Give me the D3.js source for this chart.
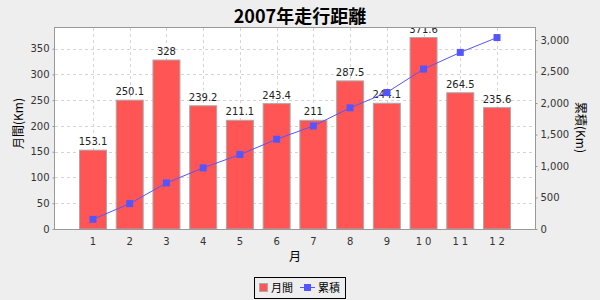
<!DOCTYPE html>
<html>
<head>
<meta charset="utf-8">
<script src="https://cdn.jsdelivr.net/npm/d3@7/dist/d3.min.js"></script>
<style>
    body { margin: 0; background: #eeeeee; }
    text { font-family: "DejaVu Sans", sans-serif; }
    .cjk { font-family: "Noto Sans CJK JP", sans-serif; }
</style>
</head>
<body>
<svg id="chart"></svg>
<script>
var months = ["1", "2", "3", "4", "5", "6", "7", "8", "9", "10", "11", "12"];
var monthly = [153.1, 250.1, 328, 239.2, 211.1, 243.4, 211, 287.5, 244.1, 371.6, 264.5, 235.6];
var cumulative = [153.1, 403.2, 731.2, 970.4, 1181.5, 1424.9, 1635.9, 1923.4, 2167.5, 2539.1, 2803.6, 3039.2];
var leftTicks = [0, 50, 100, 150, 200, 250, 300, 350];
var rightTicks = [0, 500, 1000, 1500, 2000, 2500, 3000];

const W = 600, H = 300;
const plot = {left: 55, right: 535, top: 28, bottom: 229};

const svg = d3.select("#chart")
    .attr("width", W)
    .attr("height", H);

svg.append("rect")
    .attr("width", W)
    .attr("height", H)
    .style("fill", "#eeeeee");

// scales (5% upper margin like the original)
const x = d3.scaleBand()
    .domain(months)
    .range([plot.left + 24, plot.right - 24])
    .paddingInner(0.238)
    .paddingOuter(0);

const yLeft = d3.scaleLinear()
    .domain([0, d3.max(monthly) * 1.05])
    .range([plot.bottom, plot.top]);

const yRight = d3.scaleLinear()
    .domain([0, d3.max(cumulative) * 1.05])
    .range([plot.bottom, plot.top]);

svg.append("rect")
    .attr("x", plot.left)
    .attr("y", plot.top)
    .attr("width", plot.right - plot.left)
    .attr("height", plot.bottom - plot.top)
    .style("fill", "white");

svg.append("clipPath")
    .attr("id", "plotclip")
    .append("rect")
    .attr("x", plot.left)
    .attr("y", plot.top)
    .attr("width", plot.right - plot.left)
    .attr("height", plot.bottom - plot.top);

// gridlines
const grid = svg.append("g")
    .style("stroke", "#d4d4d4")
    .style("stroke-dasharray", "3,3")
    .style("stroke-width", "1px");

grid.selectAll(".vgrid")
    .data(months)
    .enter()
    .append("line")
    .attr("x1", d => Math.round(x(d) + x.bandwidth() / 2) + 0.5)
    .attr("x2", d => Math.round(x(d) + x.bandwidth() / 2) + 0.5)
    .attr("y1", plot.top)
    .attr("y2", plot.bottom);

grid.selectAll(".hgrid")
    .data(leftTicks.slice(1))
    .enter()
    .append("line")
    .attr("x1", plot.left)
    .attr("x2", plot.right)
    .attr("y1", d => Math.round(yLeft(d)) + 0.5)
    .attr("y2", d => Math.round(yLeft(d)) + 0.5);

const inner = svg.append("g").attr("clip-path", "url(#plotclip)");

// bars
inner.selectAll(".bar")
    .data(monthly)
    .enter()
    .append("rect")
    .attr("class", "bar")
    .attr("x", (d, i) => x(months[i]) + 0.5)
    .attr("y", d => yLeft(d))
    .attr("width", x.bandwidth() - 1)
    .attr("height", d => plot.bottom - yLeft(d))
    .style("fill", "#ff5555")
    .style("stroke", "#aaaaaa")
    .style("stroke-width", "1px");

// value labels
inner.selectAll(".val")
    .data(monthly)
    .enter()
    .append("text")
    .attr("x", (d, i) => x(months[i]) + x.bandwidth() / 2)
    .attr("y", d => yLeft(d) - 5)
    .attr("text-anchor", "middle")
    .style("font-size", "10px")
    .style("fill", "#222")
    .text(d => d);

// cumulative line
const line = d3.line()
    .x((d, i) => x(months[i]) + x.bandwidth() / 2)
    .y(d => yRight(d));

inner.append("path")
    .datum(cumulative)
    .attr("d", line)
    .style("fill", "none")
    .style("stroke", "#5555ff")
    .style("stroke-width", "1px");

inner.selectAll(".marker")
    .data(cumulative)
    .enter()
    .append("rect")
    .attr("x", (d, i) => x(months[i]) + x.bandwidth() / 2 - 3.5)
    .attr("y", d => yRight(d) - 3.5)
    .attr("width", 7)
    .attr("height", 7)
    .style("fill", "#5555ff");

// plot border
svg.append("rect")
    .attr("x", plot.left - 0.5)
    .attr("y", plot.top - 0.5)
    .attr("width", plot.right - plot.left + 1)
    .attr("height", plot.bottom - plot.top + 1)
    .style("fill", "none")
    .style("stroke", "#999999");

// axes
function styleAxis(g) {
    g.select(".domain").remove();
    g.selectAll(".tick line").style("stroke", "#999999");
    g.selectAll(".tick text")
        .style("font-family", "DejaVu Sans, sans-serif")
        .style("font-size", "10px")
        .style("fill", "#333333");
}

svg.append("g")
    .attr("transform", `translate(${plot.left - 0.5} 0)`)
    .call(d3.axisLeft(yLeft).tickValues(leftTicks).tickSize(2).tickPadding(3))
    .call(styleAxis);

svg.append("g")
    .attr("transform", `translate(${plot.right + 0.5} 0)`)
    .call(d3.axisRight(yRight).tickValues(rightTicks).tickSize(2).tickPadding(3)
        .tickFormat(d3.format(",")))
    .call(styleAxis);

svg.append("g")
    .attr("transform", `translate(0 ${plot.bottom + 0.5})`)
    .call(d3.axisBottom(x).tickSize(0).tickPadding(8))
    .call(styleAxis)
    .selectAll(".tick text")
    .style("letter-spacing", d => d.length > 1 ? "3px" : "0px")
    .attr("dx", d => d.length > 1 ? "1.5px" : "0px");

// title and axis labels
svg.append("text")
    .attr("class", "cjk")
    .attr("x", W / 2)
    .attr("y", 23)
    .attr("text-anchor", "middle")
    .style("font-size", "18px")
    .style("font-weight", "bold")
    .text("2007年走行距離");

svg.append("text")
    .attr("class", "cjk")
    .attr("transform", `translate(23 ${(plot.top + plot.bottom) / 2 - 5}) rotate(-90)`)
    .attr("text-anchor", "middle")
    .style("font-size", "12px")
    .text("月間(Km)");

svg.append("text")
    .attr("class", "cjk")
    .attr("transform", `translate(576 ${(plot.top + plot.bottom) / 2 - 1}) rotate(90)`)
    .attr("text-anchor", "middle")
    .style("font-size", "12px")
    .text("累積(Km)");

svg.append("text")
    .attr("class", "cjk")
    .attr("x", (plot.left + plot.right) / 2)
    .attr("y", 261)
    .attr("text-anchor", "middle")
    .style("font-size", "12px")
    .text("月");

// legend
const legend = svg.append("g").attr("transform", "translate(254 277)");
legend.append("rect")
    .attr("x", 0.5)
    .attr("y", 0.5)
    .attr("width", 91)
    .attr("height", 21)
    .style("fill", "none")
    .style("stroke", "black");
legend.append("rect")
    .attr("x", 5.5)
    .attr("y", 6.5)
    .attr("width", 8)
    .attr("height", 8)
    .style("fill", "#ff5555")
    .style("stroke", "#aaaaaa");
legend.append("text")
    .attr("class", "cjk")
    .attr("x", 17)
    .attr("y", 15)
    .style("font-size", "11px")
    .text("月間");
legend.append("line")
    .attr("x1", 46)
    .attr("x2", 61)
    .attr("y1", 10.5)
    .attr("y2", 10.5)
    .style("stroke", "#5555ff");
legend.append("rect")
    .attr("x", 50)
    .attr("y", 7)
    .attr("width", 7)
    .attr("height", 7)
    .style("fill", "#5555ff");
legend.append("text")
    .attr("class", "cjk")
    .attr("x", 64)
    .attr("y", 15)
    .style("font-size", "11px")
    .text("累積");
</script>
</body>
</html>
